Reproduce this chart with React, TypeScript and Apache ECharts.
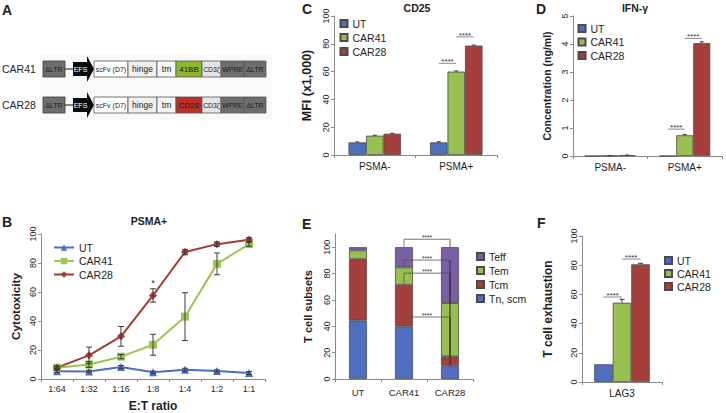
import React, { useEffect, useRef } from 'react';
import * as echarts from 'echarts';

const FONT = '"Liberation Sans", Arial, Helvetica, sans-serif';
const COL_UT = '#4d6fbe';
const COL_41 = '#98bf50';
const COL_28 = '#a53f3c';
const COL_TEFF = '#7a5ea6';
const AX = '#8a8a8a';
const TXT = '#1e1e1e';

// ---------- Panel A (construct schematic) ----------
const constructRows = ['CAR41', 'CAR28'];
const costimLabels = ['41BB', 'CD28'];
const costimColors = ['#8cb82b', '#b9302b'];
const segLabels = ['scFv (D7)', 'hinge', 'tm', 'COSTIM', 'CD3ζ', 'WPRE', 'ΔLTR'];
const segWidths = [34, 29, 19, 26, 19, 23, 22];
const segFontSizes = [7, 8.5, 8.5, 8, 6.8, 6.8, 6.8];
const segFills = ['#ffffff', '#efefef', '#f6f6f6', 'COSTIM', '#e4e4e4', '#6e6e6e', '#6e6e6e'];

// ---------- Panel B ----------
const ratios = ['1:64', '1:32', '1:16', '1:8', '1:4', '1:2', '1:1'];
const cytoUT = [5.3, 5.2, 8.3, 4.6, 6.4, 5.5, 4.1];
const cyto41 = [7.8, 10, 15.4, 23.6, 43, 79.4, 93];
const cyto28 = [7.8, 16.3, 29.4, 57.6, 87.6, 93, 96];
const errUT = [0.8, 0.8, 1, 0.8, 1, 0.8, 1];
const err41 = [1, 2, 1.5, 7.2, 16.5, 7.5, 1.5];
const err28 = [1, 5.7, 6.8, 4.6, 1.8, 1.5, 1.5];
const starB = [[3, 68]];

// ---------- Panel C ----------
const groupsCD = ['PSMA-', 'PSMA+'];
const cd25UT = [9.1, 9.1];
const cd25_41 = [13.9, 60];
const cd25_28 = [15.3, 78.7];
const cd25ErrUT = [0.3, 0.4];
const cd25Err41 = [0.3, 0.5];
const cd25Err28 = [0.3, 0.4];
const sigC = [[1, 0, 1, 66], [1, 1, 2, 85]];

// ---------- Panel D ----------
const ifnUT = [0, 0];
const ifn41 = [0.01, 0.74];
const ifn28 = [0.03, 4.03];
const ifnErr41 = [0.005, 0.03];
const ifnErr28 = [0.005, 0.05];
const sigD = [[1, 0, 1, 0.96], [1, 1, 2, 4.2]];

// ---------- Panel E ----------
const subsetCats = ['UT', 'CAR41', 'CAR28'];
const tnScm = [44.4, 39.9, 10.1];
const tcm = [46.5, 31.6, 7.1];
const tem = [6.6, 13.1, 40.4];
const teff = [2.5, 15.4, 42.4];
const bracketsE = [[106, 4], [90.2, 3], [80.3, 2], [47, 1]];

// ---------- Panel F ----------
const lagCats = ['LAG3'];
const lagUT = [12.1];
const lag41 = [54.3];
const lag28 = [80.6];
const lagErr41 = [2.3];
const lagErr28 = [0.7];
const sigF = [[0, 0, 1, 58.2], [0, 1, 2, 84.2]];

const BW = [0, 17.5, 17, 18, 18.5]; // bar widths per grid

const axisLine = { show: true, lineStyle: { color: AX, width: 1 } };
const axisTick = { show: true, length: 3, lineStyle: { color: AX, width: 1 } };

function catAxis(gridIndex: number, data: string[], fontSize: number, margin: number, extra: any = {}) {
  return {
    type: 'category', gridIndex, data,
    axisLine, axisTick: { ...axisTick, alignWithLabel: false },
    axisLabel: { color: TXT, fontSize, fontFamily: FONT, margin, interval: 0 },
    splitLine: { show: false },
    ...extra,
  };
}
function valAxis(gridIndex: number, max: number, interval: number, name: string, nameSize: number, nameGap: number) {
  return {
    type: 'value', gridIndex, min: 0, max, interval,
    name, nameLocation: 'middle', nameGap, nameRotate: 90,
    nameTextStyle: { color: TXT, fontSize: nameSize, fontWeight: 'bold', fontFamily: FONT },
    axisLine, axisTick,
    axisLabel: { color: TXT, fontSize: 9, fontFamily: FONT, rotate: 90, margin: 4 },
    splitLine: { show: false },
  };
}

function errRender(offset: number, cap: number, both: boolean) {
  return (params: any, api: any) => {
    const x = api.value(0);
    const v = api.value(1);
    const e = api.value(2);
    const pTop = api.coord([x, v + e]);
    const pBot = api.coord([x, both ? v - e : v]);
    const cx = pTop[0] + offset;
    const st = { stroke: '#3a3a3a', lineWidth: 1 };
    const children: any[] = [
      { type: 'line', shape: { x1: cx, y1: pBot[1], x2: cx, y2: pTop[1] }, style: st },
      { type: 'line', shape: { x1: cx - cap, y1: pTop[1], x2: cx + cap, y2: pTop[1] }, style: st },
    ];
    if (both) children.push({ type: 'line', shape: { x1: cx - cap, y1: pBot[1], x2: cx + cap, y2: pBot[1] }, style: st });
    return { type: 'group', children };
  };
}

function errSeries(name: string, g: number, vals: number[], errs: number[], offset: number, cap: number, both: boolean) {
  return {
    type: 'custom', name, xAxisIndex: g, yAxisIndex: g,
    renderItem: errRender(offset, cap, both),
    encode: { x: 0, y: 1 },
    data: vals.map((v, i) => [i, v, errs[i]]),
    z: 5, silent: true,
  };
}

const barStyle = (c: string) => ({ color: c, borderColor: '#4a4a4a', borderWidth: 0.8 });

function barSeries(name: string, g: number, data: number[], color: string, extra: any = {}) {
  return {
    type: 'bar', name, xAxisIndex: g, yAxisIndex: g, data,
    barWidth: BW[g], barGap: '0%', itemStyle: barStyle(color), ...extra,
  };
}

function legendAt(left: number, top: number, names: string[], gap: number, iconW: number, iconH: number, icon?: string) {
  return {
    left, top, orient: 'vertical', itemGap: gap, itemWidth: iconW, itemHeight: iconH,
    data: names.map((n) => (icon ? { name: n, icon } : { name: n })),
    formatter: (n: string) => n.split(':')[1],
    textStyle: { color: TXT, fontSize: 10.5, fontFamily: FONT },
    selectedMode: false, padding: 0,
  };
}

function buildOption() {
  const lineSeries = (name: string, data: number[], color: string, symbol: string, size: number) => ({
    type: 'line', name, xAxisIndex: 0, yAxisIndex: 0, data,
    symbol, symbolSize: size,
    lineStyle: { color, width: 2 }, itemStyle: { color },
    z: 3,
  });
  return {
    animation: false,
    backgroundColor: '#ffffff',
    textStyle: { fontFamily: FONT },
    grid: [
      { left: 41, top: 234, width: 224, height: 145, outerBoundsMode: 'none' },
      { left: 334, top: 16, width: 163, height: 139, outerBoundsMode: 'none' },
      { left: 573, top: 16, width: 149, height: 140, outerBoundsMode: 'none' },
      { left: 335, top: 234, width: 138, height: 145, outerBoundsMode: 'none' },
      { left: 582, top: 236, width: 80, height: 146, outerBoundsMode: 'none' },
    ],
    xAxis: [
      catAxis(0, ratios, 9, 5, { name: 'E:T ratio', nameLocation: 'middle', nameGap: 21, nameTextStyle: { color: TXT, fontSize: 12, fontWeight: 'bold', fontFamily: FONT } }),
      catAxis(1, groupsCD, 10, 6),
      catAxis(2, groupsCD, 10, 6),
      catAxis(3, subsetCats, 9.5, 8),
      catAxis(4, lagCats, 10, 6),
    ],
    yAxis: [
      valAxis(0, 100, 20, 'Cytotoxicity', 11.7, 20),
      valAxis(1, 100, 20, 'MFI (x1,000)', 12.5, 21),
      valAxis(2, 5, 1, 'Concentration (ng/ml)', 10.5, 21),
      valAxis(3, 110, 20, 'T cell subsets', 11, 22),
      valAxis(4, 100, 20, 'T cell exhaustion', 12, 28),
    ],
    legend: [
      legendAt(53, 242, ['B:UT', 'B:CAR41', 'B:CAR28'], 2.5, 20, 8),
      legendAt(339.5, 18, ['C:UT', 'C:CAR41', 'C:CAR28'], 3, 7, 7, 'rect'),
      legendAt(577.5, 23, ['D:UT', 'D:CAR41', 'D:CAR28'], 2.5, 7, 7, 'rect'),
      legendAt(476, 251, ['E:Teff', 'E:Tem', 'E:Tcm', 'E:Tn, scm'], 3, 7, 7, 'rect'),
      legendAt(664, 255, ['F:UT', 'F:CAR41', 'F:CAR28'], 2, 7, 7, 'rect'),
    ],
    series: [
      // B
      errSeries('errBUT', 0, cytoUT, errUT, 0, 3, true),
      errSeries('errB41', 0, cyto41, err41, 0, 3, true),
      errSeries('errB28', 0, cyto28, err28, 0, 3, true),
      lineSeries('B:UT', cytoUT, '#4a6fc8', 'triangle', 8),
      lineSeries('B:CAR41', cyto41, '#9cc553', 'rect', 8),
      lineSeries('B:CAR28', cyto28, '#a53a34', 'diamond', 8),
      // C
      barSeries('C:UT', 1, cd25UT, COL_UT),
      barSeries('C:CAR41', 1, cd25_41, COL_41),
      barSeries('C:CAR28', 1, cd25_28, COL_28),
      errSeries('errCUT', 1, cd25UT, cd25ErrUT, -BW[1], 2, false),
      errSeries('errC41', 1, cd25_41, cd25Err41, 0, 2, false),
      errSeries('errC28', 1, cd25_28, cd25Err28, BW[1], 2, false),
      // D
      barSeries('D:UT', 2, ifnUT, COL_UT),
      barSeries('D:CAR41', 2, ifn41, COL_41),
      barSeries('D:CAR28', 2, ifn28, COL_28),
      errSeries('errD41', 2, ifn41, ifnErr41, 0, 2, false),
      errSeries('errD28', 2, ifn28, ifnErr28, BW[2], 2, false),
      // E
      barSeries('E:Tn, scm', 3, tnScm, COL_UT, { stack: 'e' }),
      barSeries('E:Tcm', 3, tcm, COL_28, { stack: 'e' }),
      barSeries('E:Tem', 3, tem, COL_41, { stack: 'e' }),
      barSeries('E:Teff', 3, teff, COL_TEFF, { stack: 'e' }),
      // F
      barSeries('F:UT', 4, lagUT, COL_UT),
      barSeries('F:CAR41', 4, lag41, COL_41),
      barSeries('F:CAR28', 4, lag28, COL_28),
      errSeries('errF41', 4, lag41, lagErr41, 0, 2.5, false),
      errSeries('errF28', 4, lag28, lagErr28, BW[4], 2.5, false),
    ],
  };
}

function txt(text: string, x: number, y: number, size: number, opts: any = {}) {
  return {
    type: 'text', x, y, silent: true,
    style: {
      text, fill: opts.fill || TXT,
      font: `${opts.bold ? 'bold ' : ''}${size}px ${FONT}`,
      textAlign: opts.align || 'left', align: opts.align || 'left',
      textVerticalAlign: opts.valign || 'middle', verticalAlign: opts.valign || 'middle',
    },
    z: 20,
  };
}
function ln(x1: number, y1: number, x2: number, y2: number, color = '#6a6a6a', w = 0.8) {
  return { type: 'line', silent: true, shape: { x1, y1, x2, y2 }, style: { stroke: color, lineWidth: w }, z: 20 };
}

function buildGraphics(chart: any) {
  const els: any[] = [];
  // panel letters
  els.push(txt('A', 2, 10, 14, { bold: true }));
  els.push(txt('B', 2, 222, 14, { bold: true }));
  els.push(txt('C', 302, 9, 14, { bold: true }));
  els.push(txt('D', 536, 9, 14, { bold: true }));
  els.push(txt('E', 302, 224, 14, { bold: true }));
  els.push(txt('F', 537, 223, 14, { bold: true }));
  // titles
  els.push(txt('PSMA+', 149, 221, 10.5, { bold: true, align: 'center' }));
  els.push(txt('CD25', 417, 8, 10.5, { bold: true, align: 'center' }));
  els.push(txt('IFN-γ', 635, 8, 10.5, { bold: true, align: 'center' }));

  // ----- panel A -----
  els.push({ type: 'rect', silent: true, shape: { x: 40, y: 54, width: 232, height: 66 }, style: { fill: '#f9f9f9' }, z: 1 });
  const rowTops = [61, 97];
  const bh = 16;
  constructRows.forEach((row, r) => {
    const y0 = rowTops[r];
    const cy = y0 + bh / 2;
    els.push(txt(row, 2, cy, 10.5));
    // first ΔLTR
    els.push({ type: 'rect', silent: true, shape: { x: 43, y: y0, width: 22, height: bh }, style: { fill: '#6e6e6e', stroke: '#3a3a3a', lineWidth: 0.8 }, z: 5 });
    els.push(txt('ΔLTR', 54, cy, 6.8, { align: 'center', fill: '#1a1a1a' }));
    els.push(ln(65, cy, 73, cy, '#111', 1));
    // EFS arrow
    els.push({
      type: 'polygon', silent: true,
      shape: { points: [[73, y0 + 1], [87, y0 + 1], [87, y0 - 5], [94, cy], [87, y0 + bh + 5], [87, y0 + bh - 1], [73, y0 + bh - 1]] },
      style: { fill: '#0d0d0d' }, z: 5,
    });
    els.push(txt('EFS', 80.5, cy, 7, { align: 'center', fill: '#ffffff' }));
    let x = 94;
    segLabels.forEach((lab, i) => {
      const w = segWidths[i];
      const label = lab === 'COSTIM' ? costimLabels[r] : lab;
      const fill = segFills[i] === 'COSTIM' ? costimColors[r] : segFills[i];
      els.push({ type: 'rect', silent: true, shape: { x, y: y0, width: w, height: bh }, style: { fill, stroke: '#555', lineWidth: 0.8 }, z: 5 });
      els.push(txt(label, x + w / 2, cy, segFontSizes[i], { align: 'center', fill: '#1a1a1a' }));
      x += w;
    });
  });

  const px = (g: number, c: number, v: number) => chart.convertToPixel({ gridIndex: g }, [c, v]);

  // ----- significance lines (bars) -----
  const sig = (g: number, list: number[][], starSize: number) => {
    list.forEach(([cat, a, b, v]) => {
      const p = px(g, cat, v);
      const xa = p[0] + (a - 1) * BW[g];
      const xb = p[0] + (b - 1) * BW[g];
      els.push(ln(xa, p[1], xb, p[1]));
      els.push(txt('****', (xa + xb) / 2, p[1] + 2.5, starSize, { align: 'center', valign: 'bottom', fill: '#333' }));
    });
  };
  sig(1, sigC, 8);
  sig(2, sigD, 8);
  sig(4, sigF, 8);

  // ----- star in B -----
  starB.forEach(([c, v]) => {
    const p = px(0, c, v);
    els.push(txt('*', p[0], p[1] + 3, 9, { align: 'center', valign: 'middle', fill: '#222' }));
  });

  // ----- brackets in E -----
  const stacks = [tnScm, tcm, tem, teff];
  const cum = (cat: number, lv: number) => stacks.slice(0, lv).reduce((s, arr) => s + arr[cat], 0);
  bracketsE.forEach(([v, lv]) => {
    const pl = px(3, 1, v);
    const pr = px(3, 2, v);
    const yl = px(3, 1, cum(1, lv))[1];
    const yr = px(3, 2, cum(2, lv))[1];
    els.push(ln(pl[0], pl[1], pr[0], pr[1], '#555', 0.8));
    els.push(ln(pl[0], pl[1], pl[0], yl, '#555', 0.8));
    els.push(ln(pr[0], pr[1], pr[0], yr, '#333', lv === 4 ? 0.8 : 1.1));
    els.push(txt('****', (pl[0] + pr[0]) / 2, pl[1] + 2, 6.5, { align: 'center', valign: 'bottom', fill: '#333' }));
  });

  return els;
}

export default function App() {
  const ref = useRef<HTMLDivElement>(null);
  useEffect(() => {
    if (!ref.current) return;
    const chart = echarts.init(ref.current, undefined, { renderer: 'svg', width: 726, height: 413 });
    chart.setOption(buildOption() as any);
    chart.setOption({ graphic: { elements: buildGraphics(chart) } } as any);
    return () => chart.dispose();
  }, []);
  return (
    <div
      ref={ref}
      style={{ position: 'fixed', left: 0, top: 0, width: 726, height: 413, background: '#fff' }}
    />
  );
}
